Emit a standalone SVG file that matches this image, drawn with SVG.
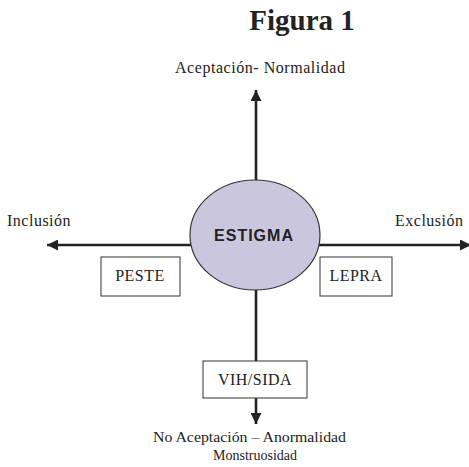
<svg xmlns="http://www.w3.org/2000/svg" width="469" height="467" viewBox="0 0 469 467">
<style>
.serif{font-family:"Liberation Serif","Times New Roman",serif;fill:#222;}
.lbl{font-size:16px;letter-spacing:0.5px;}
.box{fill:#fff;stroke:#333;stroke-width:1;}
.conn{stroke:#222;stroke-width:2.6;fill:none;}
</style>
<defs>
<marker id="ah" markerUnits="userSpaceOnUse" markerWidth="11" markerHeight="11" refX="10" refY="5" orient="auto" viewBox="0 0 10 10">
<path d="M0,0 L10,5 L0,10 z" fill="#222"/>
</marker>
</defs>
<rect width="469" height="467" fill="#fff"/>
<text class="serif" x="302" y="30" font-size="29" font-weight="bold" text-anchor="middle">Figura 1</text>
<text class="serif" x="175" y="73" font-size="16" textLength="170" lengthAdjust="spacing">Aceptación- Normalidad</text>
<text class="serif lbl" x="7" y="226">Inclusión</text>
<text class="serif lbl" x="395" y="226">Exclusión</text>
<text class="serif" x="153" y="442" font-size="14.5" textLength="193" lengthAdjust="spacingAndGlyphs">No Aceptación – Anormalidad</text>
<text class="serif" x="255" y="460" font-size="14" text-anchor="middle">Monstruosidad</text>
<g id="connectors">
<line class="conn" x1="256" y1="181" x2="256" y2="90" marker-end="url(#ah)"/>
<line class="conn" x1="256" y1="289" x2="256" y2="424" marker-end="url(#ah)"/>
<line class="conn" x1="191" y1="245" x2="47" y2="245" marker-end="url(#ah)"/>
<line class="conn" x1="319" y1="245" x2="471" y2="245" marker-end="url(#ah)"/>
</g>
<g id="estigma">
<ellipse cx="255" cy="235" rx="65" ry="55" fill="#c9c6dd" stroke="#333" stroke-width="1.2"/>
<text x="254" y="241" font-family="Liberation Sans, Arial, sans-serif" font-weight="bold" font-size="16" letter-spacing="1" text-anchor="middle" fill="#222">ESTIGMA</text>
</g>
<g id="peste">
<rect class="box" x="101" y="257" width="79" height="39"/>
<text class="serif lbl" x="140" y="281" text-anchor="middle">PESTE</text>
</g>
<g id="lepra">
<rect class="box" x="320" y="257" width="72" height="39"/>
<text class="serif lbl" x="356" y="281" text-anchor="middle">LEPRA</text>
</g>
<g id="vihsida">
<rect class="box" x="203" y="361" width="104" height="37"/>
<text class="serif lbl" x="255" y="385" text-anchor="middle">VIH/SIDA</text>
</g>
</svg>
